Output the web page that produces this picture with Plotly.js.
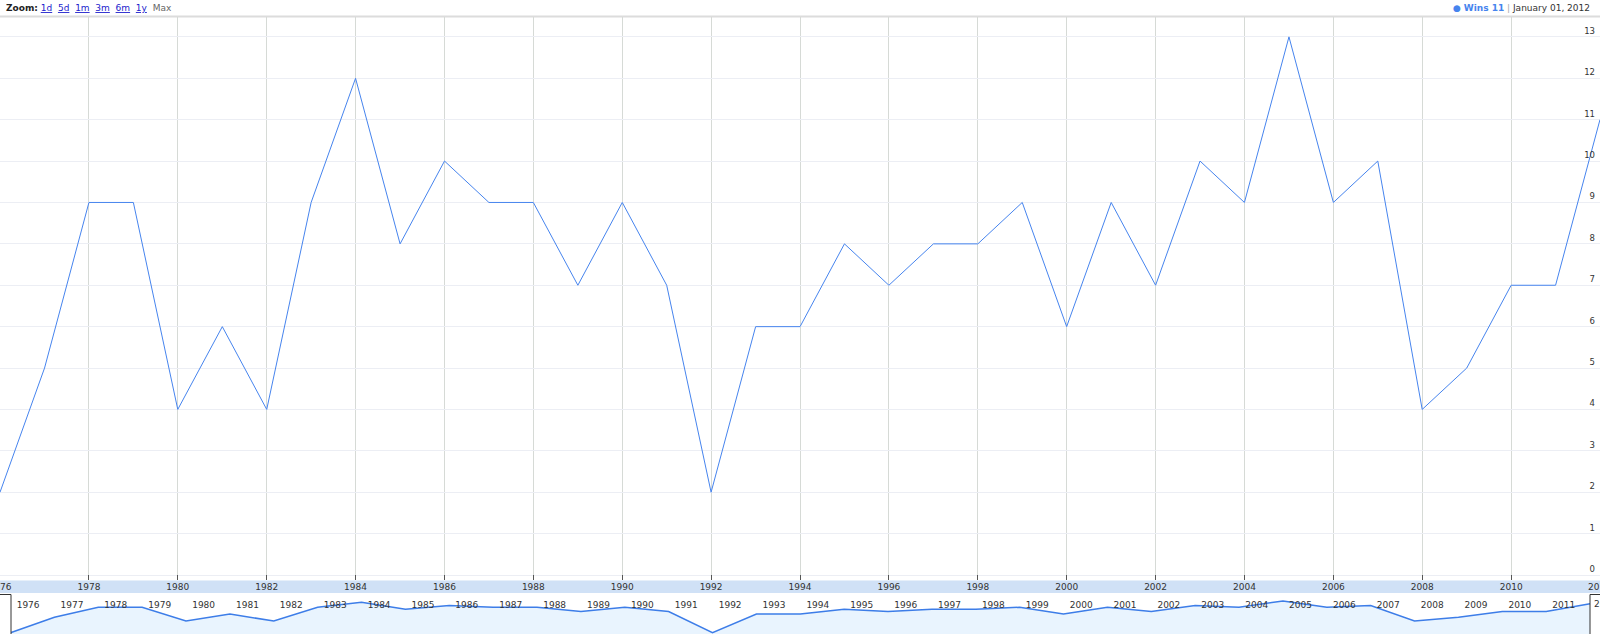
<!DOCTYPE html>
<html>
<head>
<meta charset="utf-8">
<script src="https://cdn.plot.ly/plotly-3.0.1.min.js"></script>
<style>
html,body{margin:0;padding:0;background:#fff;}
#chart{width:1600px;height:634px;}
</style>
</head>
<body>
<div id="chart"></div>
<script>
// Data: wins per season (January 1 of each year)
const years = [1976,1977,1978,1979,1980,1981,1982,1983,1984,1985,1986,1987,1988,1989,1990,1991,1992,1993,1994,1995,1996,1997,1998,1999,2000,2001,2002,2003,2004,2005,2006,2007,2008,2009,2010,2011,2012];
const wins  = [2,5,9,9,4,6,4,9,12,8,10,9,9,7,9,7,2,6,6,8,7,8,8,9,6,9,7,10,9,13,9,10,4,5,7,7,11];
const seriesName = 'Wins';
const zoomLinks = ['1d','5d','1m','3m','6m','1y'];
const lastDateLabel = 'January 01, 2012';

const dates = years.map(y => y + '-01-01');
const labelPos = years.map(y => y + '-05-27');
const yearLabels = years.map(y => String(y));
const H = 634;
const py = p => 1 - p / H;   // pixel -> paper

const lineColor = '#4684ee';
const font = 'DejaVu Sans, Verdana, sans-serif';

const traces = [
  {
    x: dates, y: wins, type: 'scatter', mode: 'lines',
    line: {color: lineColor, width: 1}, xaxis: 'x', yaxis: 'y',
    hoverinfo: 'skip', showlegend: false
  },
  {
    x: dates, y: wins, type: 'scatter', mode: 'lines', fill: 'tozeroy',
    fillcolor: '#e9f4fe', line: {color: '#3d7de8', width: 1.5},
    xaxis: 'x2', yaxis: 'y2', hoverinfo: 'skip', showlegend: false
  }
];

const gap = '&nbsp;';
const zoomText = '<b>Zoom:</b>' + zoomLinks.map(z => gap + '<span style="color:#2222cc;text-decoration:underline">' + z + '</span>').join(' ') + gap + ' <span style="color:#666">Max</span>';
const lastVal = wins[wins.length - 1];
const legendText = '<span style="color:' + lineColor + '">●</span> <b><span style="color:' + lineColor + '">' + seriesName + ' ' + lastVal + '</span></b> <span style="color:#aaa">|</span> <span style="color:#333">' + lastDateLabel + '</span>';

const layout = {
  width: 1600, height: 634,
  margin: {l: 0, r: 0, t: 0, b: 0, pad: 0},
  paper_bgcolor: '#fff', plot_bgcolor: 'rgba(0,0,0,0)',
  font: {family: font, size: 9, color: '#333'},
  showlegend: false,
  xaxis: {
    type: 'date', domain: [0, 1],
    range: ['1976-01-01', '2012-01-01 04:00'],
    tick0: '1976-01-01', dtick: 'M24', tickformat: '%Y', ticklabeloverflow: 'allow',
    showgrid: true, gridcolor: '#d6dad6', gridwidth: 1,
    ticks: 'inside', ticklen: 5, tickcolor: '#555', tickwidth: 1,
    tickfont: {family: font, size: 9, color: '#333'},
    showline: false, zeroline: false, fixedrange: true, anchor: 'y'
  },
  yaxis: {
    domain: [py(580), py(17)],
    range: [-0.12, 13.48], dtick: 1, tick0: 0,
    side: 'right', ticklabelposition: 'inside', ticklabelshift: -6, ticklabelstandoff: 2,
    showgrid: true, gridcolor: '#eceef4', zeroline: false, showline: false,
    ticks: '', tickfont: {family: font, size: 8.5, color: '#333'},
    fixedrange: true, anchor: 'x'
  },
  xaxis2: {
    type: 'date', domain: [0, 1],
    range: ['1975-10-06', '2012-03-24'],
    tickmode: 'array', tickvals: labelPos, ticktext: yearLabels, ticklabeloverflow: 'allow',
    side: 'top', ticklabelposition: 'inside', ticklabelstandoff: 6, ticks: '',
    showgrid: false,
    tickfont: {family: font, size: 9, color: '#333'},
    showline: false, zeroline: false, fixedrange: true, anchor: 'y2'
  },
  xaxis3: {
    type: 'date', matches: 'x2', overlaying: 'x2', anchor: 'y2', side: 'bottom',
    tick0: '1976-01-01', dtick: 'M12', showticklabels: false,
    ticks: 'inside', ticklen: 5, tickcolor: '#333', tickwidth: 1,
    minor: {dtick: 'M3', tick0: '1976-01-01', ticks: 'inside', ticklen: 3, tickcolor: '#bbb', showgrid: false},
    showgrid: true, gridcolor: '#d3dcd3', gridwidth: 1,
    showline: false, zeroline: false, fixedrange: true
  },
  yaxis2: {
    type: 'log', domain: [0, py(593)], range: [0.269, 1.318],
    showgrid: false, showticklabels: false, ticks: '', zeroline: false, showline: false,
    fixedrange: true, anchor: 'x2'
  },
  shapes: [
    // top separator
    {type: 'line', xref: 'paper', yref: 'paper', x0: 0, x1: 1, y0: py(16.5), y1: py(16.5), line: {color: '#dcdcdc', width: 2}, layer: 'below'},
    // x-axis band
    {type: 'rect', xref: 'paper', yref: 'paper', x0: 0, x1: 1, y0: py(593), y1: py(580.5), fillcolor: '#d0e1f6', line: {width: 0}, layer: 'below'},
    // navigator handles
    {type: 'rect', xref: 'paper', yref: 'paper', x0: -2 / 1600, x1: 11 / 1600, y0: -0.01, y1: py(594.5), fillcolor: '#fff', line: {color: '#333', width: 1}, layer: 'above'},
    {type: 'rect', xref: 'paper', yref: 'paper', x0: 1590 / 1600, x1: 1602 / 1600, y0: -0.01, y1: py(594.5), fillcolor: 'rgba(255,255,255,0)', line: {color: '#333', width: 1}, layer: 'above'}
  ],
  annotations: [
    {xref: 'paper', yref: 'paper', x: 4 / 1600, y: py(7.5), xanchor: 'left', yanchor: 'middle', showarrow: false,
     text: zoomText, font: {family: font, size: 9, color: '#222'}},
    {xref: 'paper', yref: 'paper', x: 1592 / 1600, y: py(7.5), xanchor: 'right', yanchor: 'middle', showarrow: false,
     text: legendText, font: {family: font, size: 9, color: '#333'}},
    // last main-axis year label at the right edge
    {xref: 'x', yref: 'paper', x: dates[dates.length - 1], y: py(587), xanchor: 'center', yanchor: 'middle', showarrow: false,
     text: yearLabels[yearLabels.length - 1], font: {family: font, size: 9, color: '#333'}},
    // last navigator year label (its slot starts at the right edge)
    {xref: 'x2', yref: 'paper', x: dates[dates.length - 1], y: py(604), xanchor: 'left', yanchor: 'middle', xshift: 2, showarrow: false,
     text: yearLabels[yearLabels.length - 1], font: {family: font, size: 9, color: '#333'}}
  ]
};

Plotly.newPlot('chart', traces, layout, {displayModeBar: false, staticPlot: true});
</script>
</body>
</html>
